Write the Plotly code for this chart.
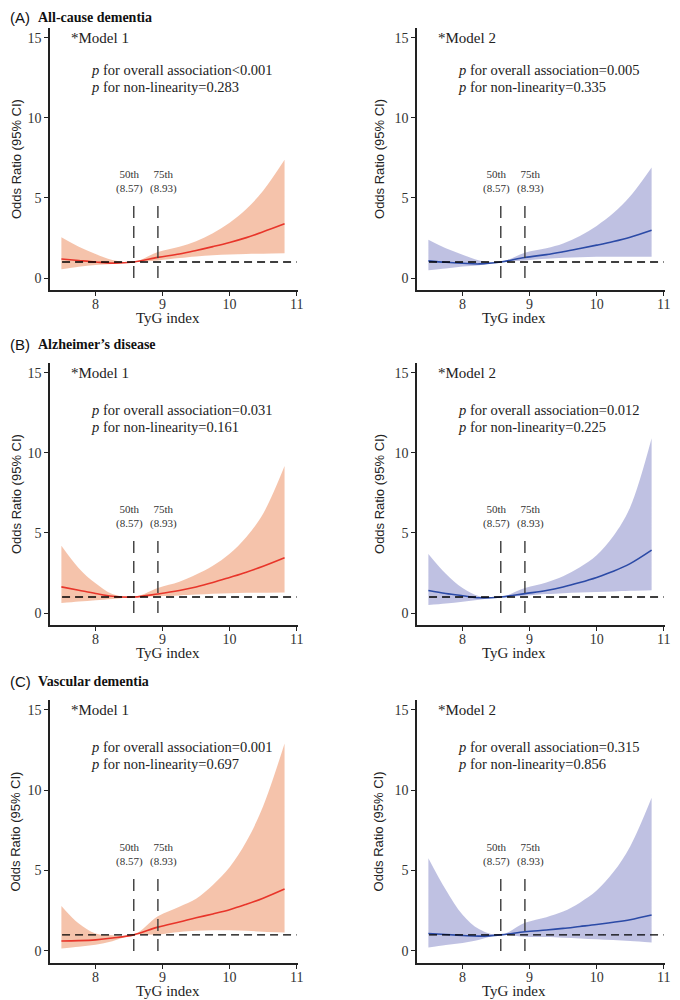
import plotly.graph_objects as go
from plotly.subplots import make_subplots

# TyG grid the curves were read at
tyg = [7.49, 7.75, 8.0, 8.25, 8.57, 8.93, 9.25, 9.5, 9.75, 10.0, 10.25, 10.5, 10.82]

# All-cause dementia
a1_or = [1.19, 1.09, 1.00, 0.93, 1.0, 1.29, 1.50, 1.72, 1.96, 2.22, 2.52, 2.88, 3.38]
a1_hi = [2.54, 1.95, 1.50, 1.12, 1.0, 1.62, 1.95, 2.30, 2.80, 3.45, 4.30, 5.45, 7.38]
a1_lo = [0.54, 0.70, 0.81, 0.87, 1.0, 1.10, 1.25, 1.35, 1.42, 1.47, 1.50, 1.52, 1.54]
a2_or = [1.07, 0.98, 0.92, 0.88, 1.0, 1.28, 1.46, 1.64, 1.84, 2.05, 2.28, 2.55, 2.98]
a2_hi = [2.38, 1.85, 1.45, 1.10, 1.0, 1.58, 1.85, 2.15, 2.62, 3.25, 4.05, 5.10, 6.90]
a2_lo = [0.48, 0.60, 0.72, 0.80, 1.0, 1.10, 1.20, 1.26, 1.30, 1.32, 1.33, 1.33, 1.33]

# Alzheimer's disease
b1_or = [1.63, 1.42, 1.22, 1.05, 1.0, 1.19, 1.40, 1.62, 1.90, 2.22, 2.55, 2.92, 3.45]
b1_hi = [4.20, 2.80, 1.85, 1.18, 1.0, 1.56, 1.95, 2.40, 2.95, 3.70, 4.75, 6.20, 9.17]
b1_lo = [0.62, 0.72, 0.80, 0.88, 1.0, 1.05, 1.10, 1.15, 1.20, 1.24, 1.26, 1.27, 1.28]
b2_or = [1.40, 1.22, 1.08, 0.95, 1.0, 1.21, 1.40, 1.62, 1.90, 2.22, 2.60, 3.08, 3.92]
b2_hi = [3.69, 2.45, 1.56, 1.05, 1.0, 1.56, 1.90, 2.29, 2.85, 3.60, 4.80, 6.60, 10.9]
b2_lo = [0.50, 0.60, 0.71, 0.83, 1.0, 1.08, 1.18, 1.24, 1.28, 1.31, 1.35, 1.39, 1.42]

# Vascular dementia
c1_or = [0.62, 0.64, 0.69, 0.80, 1.0, 1.48, 1.80, 2.06, 2.30, 2.56, 2.90, 3.28, 3.85]
c1_hi = [2.80, 1.70, 1.08, 0.98, 1.0, 2.15, 2.75, 3.25, 4.10, 5.20, 6.80, 9.00, 12.9]
c1_lo = [0.15, 0.26, 0.38, 0.60, 1.0, 1.02, 1.18, 1.25, 1.28, 1.28, 1.25, 1.20, 1.15]
c2_or = [1.08, 1.02, 0.96, 0.92, 1.0, 1.19, 1.30, 1.40, 1.52, 1.64, 1.78, 1.94, 2.23]
c2_hi = [5.77, 3.80, 2.25, 1.35, 1.0, 1.75, 2.10, 2.45, 3.00, 3.75, 4.90, 6.50, 9.52]
c2_lo = [0.21, 0.37, 0.50, 0.70, 1.0, 0.88, 0.86, 0.82, 0.78, 0.73, 0.68, 0.62, 0.52]

panels = [
    (1, 1, a1_or, a1_hi, a1_lo, "*Model 1", "&lt;0.001", "0.283"),
    (1, 2, a2_or, a2_hi, a2_lo, "*Model 2", "=0.005", "0.335"),
    (2, 1, b1_or, b1_hi, b1_lo, "*Model 1", "=0.031", "0.161"),
    (2, 2, b2_or, b2_hi, b2_lo, "*Model 2", "=0.012", "0.225"),
    (3, 1, c1_or, c1_hi, c1_lo, "*Model 1", "=0.001", "0.697"),
    (3, 2, c2_or, c2_hi, c2_lo, "*Model 2", "=0.315", "0.856"),
]
row_titles = ["All-cause dementia", "Alzheimer\u2019s disease", "Vascular dementia"]
row_tags = ["(A)", "(B)", "(C)"]
pctl_x = [8.57, 8.93]
pctl_lab = ["50th<br>(8.57)", "75th<br>(8.93)"]
pctl_lab_x = [8.50, 9.02]

serif = "Liberation Serif, Times New Roman, serif"
sans = "Liberation Sans, Arial, sans-serif"
styles = {1: ("rgba(243,180,150,0.8)", "#E8352A"), 2: ("rgba(175,178,219,0.8)", "#2B4AA6")}

# page body adds an 8px margin, so the figure is 672x992
W, H = 672, 992
ydom = [(0.7157, 0.9798), (0.378, 0.6421), (0.0373, 0.3024)]
xdom = [(0.0625, 0.4315), (0.6086, 0.9777)]
p_y = [(13.0, 11.95), (12.7, 11.6), (12.7, 11.6)]
ytitle_x = [0.0119, 0.552]
xtitle_x = [0.238, 0.753]
xtitle_y = [0.6875, 0.3498, 0.0091]
rowtitle_y = [0.9904, 0.6603, 0.3206]

fig = make_subplots(rows=3, cols=2)

for r, c, o, hi, lo, model, p_all, p_nl in panels:
    fill, line = styles[c]
    fig.add_trace(go.Scatter(x=tyg, y=lo, mode="lines", line=dict(width=0, shape="spline"),
                             showlegend=False, hoverinfo="skip"), row=r, col=c)
    fig.add_trace(go.Scatter(x=tyg, y=hi, mode="lines", line=dict(width=0, shape="spline"),
                             fill="tonexty", fillcolor=fill, showlegend=False, hoverinfo="skip"),
                  row=r, col=c)
    fig.add_trace(go.Scatter(x=tyg, y=o, mode="lines", line=dict(color=line, width=1.6, shape="spline"),
                             showlegend=False), row=r, col=c)
    # reference line OR = 1
    fig.add_trace(go.Scatter(x=[7.5, 11.0], y=[1, 1], mode="lines",
                             line=dict(color="black", width=1.4, dash="8px,5px"),
                             showlegend=False, hoverinfo="skip"), row=r, col=c)
    for px, lx, lab in zip(pctl_x, pctl_lab_x, pctl_lab):
        fig.add_trace(go.Scatter(x=[px, px], y=[0, 4.9], mode="lines",
                                 line=dict(color="#3a3a3a", width=1.4, dash="12px,8px"),
                                 showlegend=False, hoverinfo="skip"), row=r, col=c)
        fig.add_annotation(x=lx, y=6.0, text=lab, showarrow=False, row=r, col=c,
                           font=dict(family=serif, size=11, color="#333"))
    fig.add_annotation(x=7.6, y=15, text=model, showarrow=False, xanchor="left", row=r, col=c,
                       font=dict(family=serif, size=15, color="#222"))
    fig.add_annotation(x=7.9, y=p_y[r - 1][0], text="<i>p</i> for overall association" + p_all,
                       showarrow=False, xanchor="left", row=r, col=c,
                       font=dict(family=serif, size=14.5, color="#222"))
    fig.add_annotation(x=7.9, y=p_y[r - 1][1], text="<i>p</i> for non-linearity=" + p_nl,
                       showarrow=False, xanchor="left", row=r, col=c,
                       font=dict(family=serif, size=14.5, color="#222"))

for r in range(1, 4):
    for c in range(1, 3):
        fig.update_xaxes(row=r, col=c, domain=list(xdom[c - 1]), range=[7.32, 11.02],
                         tickvals=[8, 9, 10, 11], showline=True, linecolor="#222", linewidth=1.5,
                         ticks="outside", ticklen=4, tickcolor="#222", showgrid=False, zeroline=False,
                         automargin=False, ticklabelstandoff=-4,
                         tickfont=dict(family=serif, size=14, color="#333"))
        fig.update_yaxes(row=r, col=c, domain=list(ydom[r - 1]), range=[-0.75, 15.6],
                         tickvals=[0, 5, 10, 15], showline=True, linecolor="#222", linewidth=1.5,
                         ticks="outside", ticklen=4, tickcolor="#222", showgrid=False, zeroline=False,
                         automargin=False, tickfont=dict(family=serif, size=14, color="#333"))
        # axis titles
        fig.add_annotation(xref="paper", yref="paper", x=ytitle_x[c - 1],
                           y=sum(ydom[r - 1]) / 2, text="Odds Ratio (95% CI)", textangle=-90,
                           showarrow=False, xanchor="center", yanchor="middle",
                           font=dict(family=sans, size=13, color="#222"))
        fig.add_annotation(xref="paper", yref="paper", x=xtitle_x[c - 1],
                           y=xtitle_y[r - 1], text="TyG index", showarrow=False,
                           xanchor="center", yanchor="middle",
                           font=dict(family=serif, size=15, color="#222"))
    fig.add_annotation(xref="paper", yref="paper", x=0.0, y=rowtitle_y[r - 1], text=row_tags[r - 1],
                       showarrow=False, xanchor="left", yanchor="middle",
                       font=dict(family=sans, size=15, color="#111"))
    fig.add_annotation(xref="paper", yref="paper", x=0.042, y=rowtitle_y[r - 1],
                       text="<b>" + row_titles[r - 1] + "</b>", showarrow=False,
                       xanchor="left", yanchor="middle",
                       font=dict(family=serif, size=14, color="#111"))

fig.update_layout(width=W, height=H, margin=dict(l=0, r=0, t=0, b=0),
                  plot_bgcolor="white", paper_bgcolor="white")

fig.write_html("out.html")
